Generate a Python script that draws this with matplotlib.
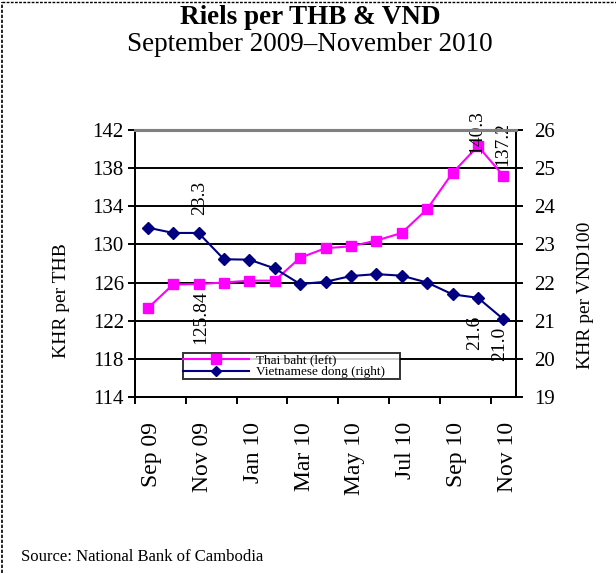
import matplotlib.pyplot as plt
import matplotlib.transforms as mtransforms
from matplotlib.lines import Line2D

months = ['Sep 09', 'Oct 09', 'Nov 09', 'Dec 09', 'Jan 10', 'Feb 10', 'Mar 10', 'Apr 10',
          'May 10', 'Jun 10', 'Jul 10', 'Aug 10', 'Sep 10', 'Oct 10', 'Nov 10']
thb = [123.3, 125.8, 125.84, 126.0, 126.2, 126.2, 128.6, 129.6, 129.8, 130.4, 131.2, 133.7,
       137.5, 140.3, 137.2]
vnd = [23.44, 23.3, 23.3, 22.61, 22.6, 22.37, 21.96, 22.02, 22.17, 22.22, 22.18, 22.0,
       21.69, 21.6, 21.04]
left_ticks = [114, 118, 122, 126, 130, 134, 138, 142]
right_ticks = [19, 20, 21, 22, 23, 24, 25, 26]

plt.rcParams['font.family'] = ['Liberation Serif', 'DejaVu Serif']

fig = plt.figure(figsize=(6.16, 5.73), dpi=100)
ax = fig.add_axes([0.2192, 0.3072, 0.6185, 0.4660])
ax2 = ax.twinx()

x = list(range(len(months)))

# gridlines
for v in left_ticks[1:-1]:
    ax.axhline(v, color='black', lw=1.4, zorder=1)

ax.plot(x, thb, color='#ff00ff', marker='s', ms=7.5, lw=1.5, zorder=3)
ax2.plot(x, vnd, color='#000080', marker='D', ms=6.5, lw=1.5, zorder=3)

ax.set_xlim(-0.5, 14.5)
ax.set_ylim(114, 142)
ax2.set_ylim(19, 26)
ax.set_yticks(left_ticks)
ax2.set_yticks(right_ticks)
ax.set_xticks([i - 0.5 for i in range(0, 15, 2)])
ax.set_xticklabels([])
ax.set_xticks(x[::2], minor=True)
ax.set_xticklabels(months[::2], minor=True, rotation=90, fontsize=17)
ax.tick_params(axis='x', which='major', length=5, width=1.4, direction='out')
ax.tick_params(axis='x', which='minor', length=0, pad=18)
ax.tick_params(axis='y', length=5, width=1.4, labelsize=15, pad=3)
ax2.tick_params(axis='y', length=5, width=1.4, labelsize=15, pad=8)

shift = mtransforms.ScaledTranslation(4 / 100, 0, fig.dpi_scale_trans)
for lab in ax.get_xticklabels(minor=True):
    lab.set_transform(lab.get_transform() + shift)

for a in (ax, ax2):
    for s in ('left', 'right', 'bottom'):
        a.spines[s].set_linewidth(1.4)
        a.spines[s].set_color('black')
    a.spines['top'].set_color('#808080')
    a.spines['top'].set_linewidth(2.2)

fig.text(0.1006, 0.476, 'KHR per THB', rotation=90, ha='center', va='center', fontsize=14)
fig.text(0.9497, 0.485, 'KHR per VND100', rotation=90, ha='center', va='center', fontsize=14)

# data labels
lab_kw = dict(textcoords='offset pixels', rotation=90, ha='center', fontsize=14)
ax2.annotate('23.3', (2, vnd[2]), xytext=(1, 18), va='bottom', **lab_kw)
ax.annotate('125.84', (2, thb[2]), xytext=(2, -6), va='top', **lab_kw)
ax.annotate('140.3', (13, thb[13]), xytext=(-1, 14), va='center', **lab_kw)
ax.annotate('137.2', (14, thb[14]), xytext=(-1, 10), va='bottom', **lab_kw)
ax2.annotate('21.6', (13, vnd[13]), xytext=(-3, -18), va='top', **lab_kw)
ax2.annotate('21.0', (14, vnd[14]), xytext=(-4, -8), va='top', **lab_kw)

handles = [Line2D([], [], color='#ff00ff', marker='s', ms=7, lw=1.5),
           Line2D([], [], color='#000080', marker='D', ms=5.5, lw=1.5)]
leg = ax2.legend(handles, ['Thai baht (left)', 'Vietnamese dong (right)'],
                 loc='lower left', bbox_to_anchor=(0.125, 0.067, 0.57, 0.105),
                 mode='expand', fontsize=9.5, frameon=True, fancybox=False,
                 borderpad=0.05, labelspacing=0.0, handlelength=5, handletextpad=0.5,
                 borderaxespad=0)
leg.get_frame().set_edgecolor('black')
leg.get_frame().set_linewidth(1.4)
leg.set_zorder(5)

fig.text(0.503, 0.969, 'Riels per THB & VND', ha='center', va='center',
         fontsize=19.5, fontweight='bold')
fig.text(0.503, 0.922, 'September 2009\u2013November 2010', ha='center', va='center',
         fontsize=19.5)
fig.text(0.034, 0.028, 'Source: National Bank of Cambodia', ha='left', va='center',
         fontsize=12)

# dashed frame on top and left edge
fig.add_artist(Line2D([0.004, 0.004], [0, 0.996], color='black', lw=1.2,
                      ls=(0, (2, 1)), transform=fig.transFigure))
fig.add_artist(Line2D([0.004, 1], [0.996, 0.996], color='black', lw=1.0,
                      ls=(0, (2, 1)), transform=fig.transFigure))

fig.savefig('out.png', dpi=100)
